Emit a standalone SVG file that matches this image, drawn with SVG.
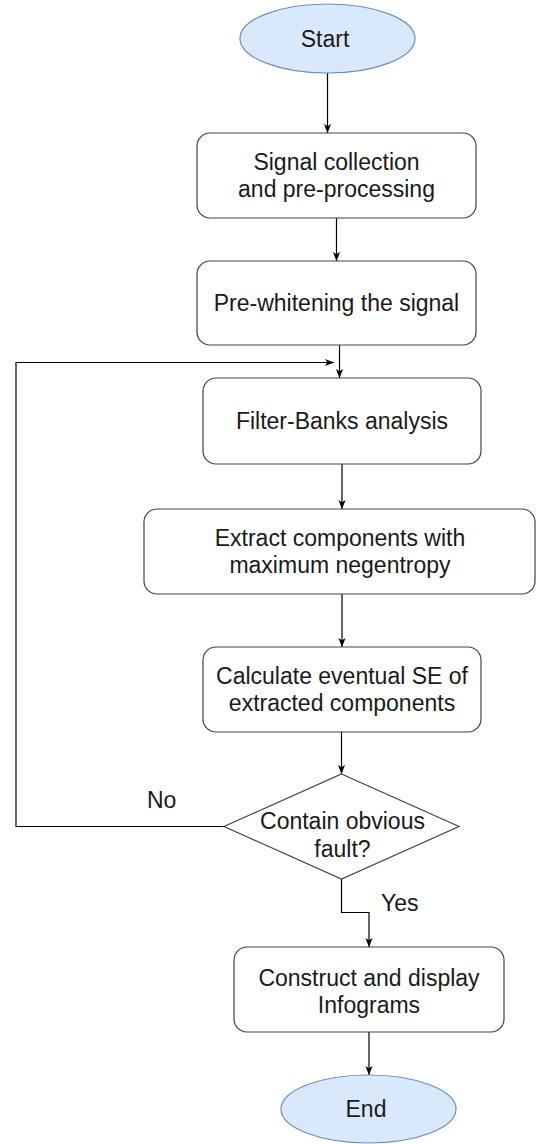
<svg xmlns="http://www.w3.org/2000/svg" width="536" height="1144" viewBox="0 0 536 1144">
<defs>
<marker id="arr" viewBox="0 0 10 10" refX="10" refY="5" markerWidth="9" markerHeight="9" markerUnits="userSpaceOnUse" orient="auto">
<path d="M0,1 L10,5 L0,9 L2.5,5 z" fill="#000"/>
</marker>
<style>
.box{fill:#fff;stroke:#444;stroke-width:1.2}
.term{fill:#dae8fc;stroke:#6c8ebf;stroke-width:1.2}
.t{font-family:"Liberation Sans",Arial,sans-serif;font-size:23px;fill:#1a1a1a;text-anchor:middle}
.lbl{font-family:"Liberation Sans",Arial,sans-serif;font-size:23px;fill:#1a1a1a}
.c{fill:none;stroke:#000;stroke-width:1.2;marker-end:url(#arr)}
</style>
</defs>
<rect width="536" height="1144" fill="#fff"/>
<g id="connectors">
<path class="c" d="M327.5,73 V133"/>
<path class="c" d="M336.5,218 V261"/>
<path class="c" d="M339.5,345 V378"/>
<path class="c" d="M224,826.5 H16 V362.5 H334"/>
<path class="c" d="M342,464 V509"/>
<path class="c" d="M342,594 V647"/>
<path class="c" d="M341.5,732 V774"/>
<path class="c" d="M341.5,879 V912.5 H369 V947"/>
<path class="c" d="M369,1032 V1075"/>
<text class="lbl" x="147" y="808">No</text>
<text class="lbl" x="381" y="911">Yes</text>
</g>
<g id="start">
<ellipse class="term" cx="327.5" cy="38.5" rx="87.5" ry="34.5"/>
<text class="t" x="325" y="46.5">Start</text>
</g>
<g id="signal">
<rect class="box" x="197" y="133" width="279" height="85" rx="13"/>
<text class="t" x="336.5" y="169.5">Signal collection</text>
<text class="t" x="336.5" y="196.5">and pre-processing</text>
</g>
<g id="prewhiten">
<rect class="box" x="197" y="261" width="279" height="84" rx="13"/>
<text class="t" x="336.5" y="311">Pre-whitening the signal</text>
</g>
<g id="filter">
<rect class="box" x="203" y="378" width="278" height="86" rx="13"/>
<text class="t" x="342" y="429">Filter-Banks analysis</text>
</g>
<g id="extract">
<rect class="box" x="144" y="509" width="391" height="85" rx="13"/>
<text class="t" x="340" y="546">Extract components with</text>
<text class="t" x="340" y="573">maximum negentropy</text>
</g>
<g id="calculate">
<rect class="box" x="203" y="647" width="278" height="85" rx="13"/>
<text class="t" x="342" y="684">Calculate eventual SE of</text>
<text class="t" x="342" y="711">extracted components</text>
</g>
<g id="decision">
<polygon class="box" points="341.5,774 459,826.5 341.5,879 224,826.5"/>
<text class="t" x="342.5" y="829">Contain obvious</text>
<text class="t" x="342.5" y="856.5">fault?</text>
</g>
<g id="construct">
<rect class="box" x="234" y="947" width="270" height="85" rx="13"/>
<text class="t" x="369" y="986">Construct and display</text>
<text class="t" x="369" y="1013">Infograms</text>
</g>
<g id="end">
<ellipse class="term" cx="368.5" cy="1109" rx="87.5" ry="34"/>
<text class="t" x="366" y="1117">End</text>
</g>
</svg>
